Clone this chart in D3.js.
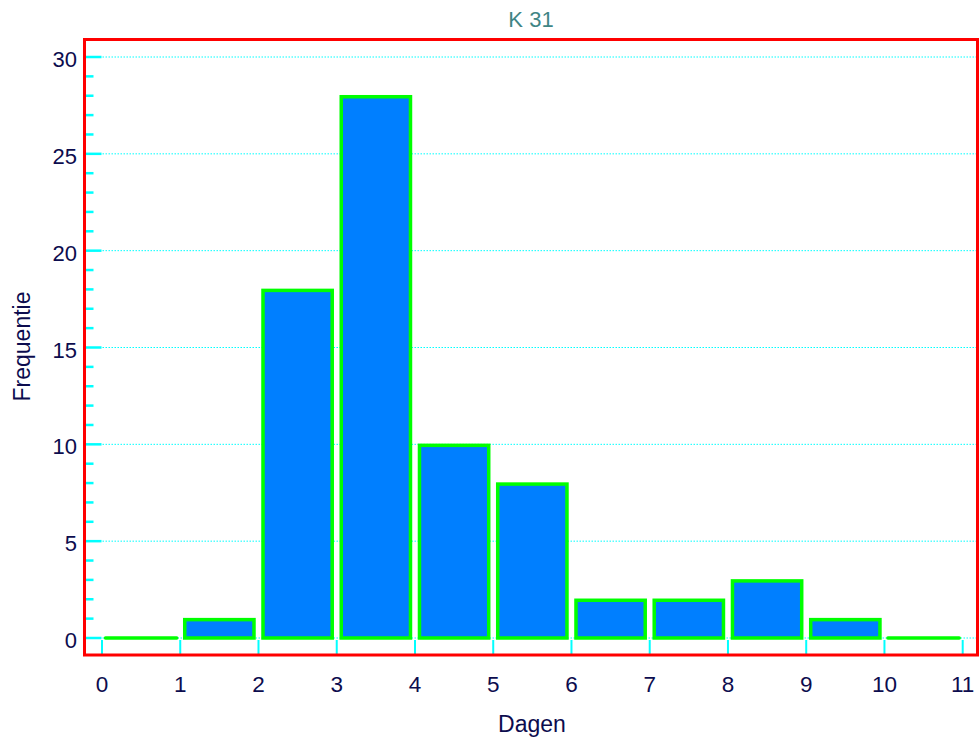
<!DOCTYPE html>
<html><head><meta charset="utf-8">
<script src="https://cdn.jsdelivr.net/npm/d3@7"></script>
<style>body{margin:0;background:#fff}svg{display:block}text{font-family:"Liberation Sans",Arial,sans-serif}</style>
</head><body>
<script>
const title = "K 31";
const xLabel = "Dagen";
const yLabel = "Frequentie";
const binStarts = [0,1,2,3,4,5,6,7,8,9,10];
const frequencies = [0,1,18,28,10,8,2,2,3,1,0];
const xTicks = [0,1,2,3,4,5,6,7,8,9,10,11];
const yMajorTicks = [0,5,10,15,20,25,30];
const yMinorTicks = d3.range(0,31,1);

const W=979,H=742;
const frame={l:84.5,t:39.5,r:977.5,b:655};
const x=d3.scaleLinear().domain([0,11]).range([102,962.7]);
const y=d3.scaleLinear().domain([0,30]).range([638,57]);

const svg=d3.select("body").append("svg").attr("width",W).attr("height",H);
const navy="#0c0c4e", cyan="#00ffff";

// gridlines
svg.append("g").selectAll("line").data(yMajorTicks).join("line")
  .attr("x1",frame.l).attr("x2",frame.r).attr("y1",d=>y(d)).attr("y2",d=>y(d))
  .attr("stroke",cyan).attr("stroke-width",1).attr("stroke-dasharray","1.5,1.5");

// bars
const bars=svg.append("g");
binStarts.forEach((s,i)=>{
  const v=frequencies[i];
  const x0=x(s)+4.5, x1=x(s+1)-4.5;
  if(v>0){
    bars.append("rect").attr("x",x0).attr("y",y(v)+1).attr("width",x1-x0).attr("height",y(0)-y(v)-1)
      .attr("fill","#007fff").attr("stroke","#00ff00").attr("stroke-width",3.5);
  } else {
    bars.append("line").attr("x1",x0-1).attr("x2",x1+1).attr("y1",y(0)).attr("y2",y(0))
      .attr("stroke","#00ff00").attr("stroke-width",3.5).attr("stroke-linecap","round");
  }
});

// y ticks
svg.append("g").selectAll("line").data(yMinorTicks).join("line")
  .attr("x1",frame.l).attr("x2",d=>d%5===0?frame.l+17:frame.l+9)
  .attr("y1",d=>y(d)).attr("y2",d=>y(d))
  .attr("stroke",cyan).attr("stroke-width",2.5);
// x ticks
svg.append("g").selectAll("line").data(xTicks).join("line")
  .attr("x1",d=>x(d)).attr("x2",d=>x(d)).attr("y1",y(0)+2).attr("y2",frame.b)
  .attr("stroke",cyan).attr("stroke-width",2);

// frame
svg.append("rect").attr("x",frame.l).attr("y",frame.t).attr("width",frame.r-frame.l).attr("height",frame.b-frame.t)
  .attr("fill","none").attr("stroke","#ff0000").attr("stroke-width",3);

// labels
svg.append("g").selectAll("text").data(yMajorTicks).join("text")
  .attr("x",77).attr("y",d=>y(d)+10).attr("text-anchor","end")
  .attr("font-size",22).attr("fill",navy).text(d=>d);
svg.append("g").selectAll("text").data(xTicks).join("text")
  .attr("x",d=>x(d)).attr("y",692).attr("text-anchor","middle")
  .attr("font-size",22.5).attr("fill",navy).text(d=>d);
svg.append("text").attr("x",531).attr("y",26.5).attr("text-anchor","middle")
  .attr("font-size",22).attr("fill","#3f8585").text(title);
svg.append("text").attr("x",532).attr("y",731.5).attr("text-anchor","middle")
  .attr("font-size",23).attr("fill",navy).text(xLabel);
svg.append("text").attr("transform","translate(30,346.5) rotate(-90)").attr("text-anchor","middle")
  .attr("font-size",23).attr("fill",navy).text(yLabel);
</script>
</body></html>
